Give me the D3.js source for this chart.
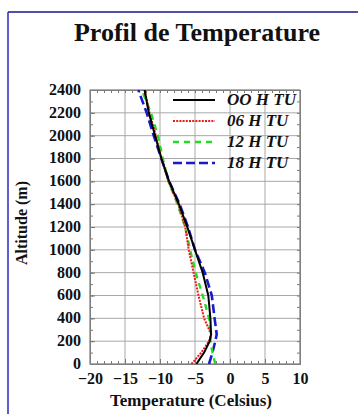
<!DOCTYPE html>
<html>
<head>
<meta charset="utf-8">
<script src="https://cdn.jsdelivr.net/npm/d3@7"></script>
<style>
  body { margin: 0; background: #fff; }
  svg, svg text { font-family: "Liberation Serif", "DejaVu Serif", serif; }
  svg { display: block; }
  .grid line { stroke: #a8a8a8; stroke-width: 1; }
  .axis path, .axis line { stroke: #777; }
  .axis text { font-size: 16px; font-weight: bold; fill: #111; font-family: "Liberation Serif", serif; }
</style>
</head>
<body>
<div id="chart"></div>
<script>
// Data
const altitudes = [0, 100, 200, 260, 400, 600, 800, 1000, 1200, 1400, 1600, 1800, 2000, 2200, 2400];
const temp00 = [-4.8, -3.7, -2.9, -2.7, -2.8, -3.1, -3.9, -5.0, -6.1, -7.3, -8.7, -9.8, -10.7, -11.6, -12.2];
const temp06 = [-5.5, -4.1, -3.0, -2.7, -3.7, -4.5, -5.2, -5.9, -6.4, -7.4, -8.8, -9.8, -10.6, -11.5, -12.2];
const temp12 = [-2.1, -2.5, -2.8, -2.8, -3.0, -3.9, -4.9, -5.7, -6.4, -7.5, -8.8, -9.6, -10.3, -11.3, -12.6];
const temp18 = [-3.0, -2.5, -2.1, -1.9, -2.2, -2.6, -3.6, -5.0, -6.0, -7.2, -8.7, -9.8, -10.9, -11.9, -13.1];
const seriesNames = ["OO H TU", "06 H TU", "12 H TU", "18 H TU"];
const xTicks = [-20, -15, -10, -5, 0, 5, 10];
const yTicks = d3.range(0, 2401, 200);

const series = [
    { name: seriesNames[0], temps: temp00, color: "#000000", dash: null, width: 2 },
    { name: seriesNames[1], temps: temp06, color: "#f01818", dash: "2,1.2", width: 2 },
    { name: seriesNames[2], temps: temp12, color: "#22dd22", dash: "6,5", width: 2.4 },
    { name: seriesNames[3], temps: temp18, color: "#1a1acc", dash: "9,4", width: 2.6 }
];

const W = 358, H = 414;
const margin = { top: 90, left: 90 };
const width = 210, height = 274;

const root = d3.select("#chart").append("svg")
    .attr("width", W)
    .attr("height", H);

// page frame
root.append("line").attr("x1", 8).attr("x2", W).attr("y1", 12).attr("y2", 12)
    .attr("stroke", "#5050a8").attr("stroke-width", 2);
root.append("line").attr("x1", 8).attr("x2", 8).attr("y1", 12).attr("y2", H)
    .attr("stroke", "#2828c0").attr("stroke-width", 1.5);

// title
root.append("text")
    .attr("x", 197).attr("y", 41)
    .attr("text-anchor", "middle")
    .style("font-size", "26px").style("font-weight", "bold").style("fill", "#111")
    .text("Profil de Temperature");

const svg = root.append("g")
    .attr("transform", `translate(${margin.left},${margin.top})`);

const xScale = d3.scaleLinear().domain([-20, 10]).range([0, width]);
const yScale = d3.scaleLinear().domain([0, 2400]).range([height, 0]);

// grid
svg.append("g").attr("class", "grid")
    .selectAll("line.v").data(xTicks).enter().append("line")
    .attr("x1", d => xScale(d)).attr("x2", d => xScale(d))
    .attr("y1", 0).attr("y2", height);
svg.append("g").attr("class", "grid")
    .selectAll("line.h").data(yTicks).enter().append("line")
    .attr("x1", 0).attr("x2", width)
    .attr("y1", d => yScale(d)).attr("y2", d => yScale(d));

// minor ticks on all four sides (inward)
const xMinor = d3.range(-20, 10.01, 1);
const yMinor = d3.range(0, 2401, 100);
svg.append("g").attr("class", "axis").attr("transform", `translate(0,${height})`)
    .call(d3.axisBottom(xScale).tickValues(xMinor).tickSize(-3).tickFormat(""));
svg.append("g").attr("class", "axis")
    .call(d3.axisTop(xScale).tickValues(xMinor).tickSize(-3).tickFormat(""));
svg.append("g").attr("class", "axis")
    .call(d3.axisLeft(yScale).tickValues(yMinor).tickSize(-3).tickFormat(""));
svg.append("g").attr("class", "axis").attr("transform", `translate(${width},0)`)
    .call(d3.axisRight(yScale).tickValues(yMinor).tickSize(-3).tickFormat(""));

// labelled axes
const xAxis = svg.append("g").attr("class", "axis")
    .attr("transform", `translate(0,${height})`)
    .call(d3.axisBottom(xScale).tickValues(xTicks).tickSize(-5).tickPadding(9)
        .tickFormat(d => d < 0 ? "\u2212" + Math.abs(d) : d));
xAxis.select(".domain").remove();

const yAxis = svg.append("g").attr("class", "axis")
    .call(d3.axisLeft(yScale).tickValues(yTicks).tickSize(-5).tickPadding(9)
        .tickFormat(d3.format("d")));
yAxis.select(".domain").remove();
yAxis.selectAll("text").attr("dy", "0.28em");

// plot border
svg.append("rect")
    .attr("width", width).attr("height", height)
    .attr("fill", "none").attr("stroke", "#888").attr("stroke-width", 1);

// axis titles
svg.append("text")
    .attr("x", xScale(-5) - 4).attr("y", height + 42)
    .attr("text-anchor", "middle")
    .style("font-size", "17px").style("font-weight", "bold").style("fill", "#111")
    .text("Temperature (Celsius)");

svg.append("text")
    .attr("transform", "rotate(-90)")
    .attr("x", -height / 2 + 4).attr("y", -63)
    .attr("text-anchor", "middle")
    .style("font-size", "16px").style("font-weight", "bold").style("fill", "#111")
    .text("Altitude (m)");

// profiles
const line = d3.line()
    .x(d => xScale(d[0]))
    .y(d => yScale(d[1]));

const plot = svg.append("g");
plot.append("defs").append("clipPath").attr("id", "clip")
    .append("rect").attr("width", width).attr("height", height);

plot.selectAll(".profile")
    .data(series.slice().reverse())
    .enter()
    .append("path")
    .attr("class", "profile")
    .attr("clip-path", "url(#clip)")
    .attr("d", d => line(d.temps.map((t, i) => [t, altitudes[i]])))
    .style("fill", "none")
    .style("stroke", d => d.color)
    .style("stroke-width", d => d.width)
    .style("stroke-dasharray", d => d.dash);

// legend
const legend = svg.append("g").attr("transform", "translate(83,10)");
const rows = legend.selectAll(".legend")
    .data(series)
    .enter()
    .append("g")
    .attr("class", "legend")
    .attr("transform", (d, i) => `translate(0,${i * 21})`);

rows.append("line")
    .attr("x1", 0).attr("x2", 42)
    .style("stroke", d => d.color)
    .style("stroke-width", d => d.width)
    .style("stroke-dasharray", d => d.dash);

rows.append("text")
    .attr("x", 54).attr("y", 5)
    .style("font-size", "17px").style("font-weight", "bold").style("font-style", "italic")
    .style("fill", "#111")
    .text(d => d.name);
</script>
</body>
</html>
